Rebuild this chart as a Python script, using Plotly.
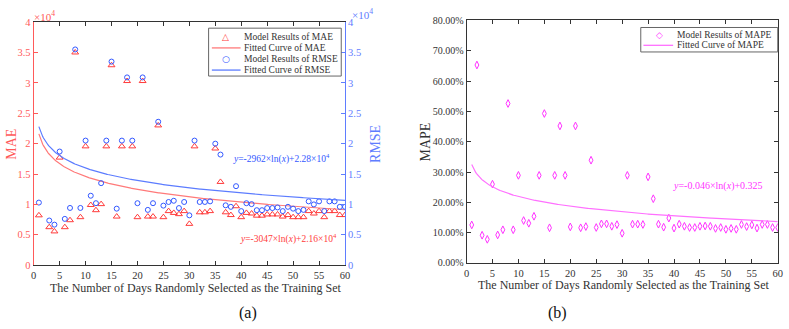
import numpy as np
import plotly.graph_objects as go

# ---------------- data ----------------
days_ab = [1, 3, 4, 5, 6, 7, 8, 9, 10, 11, 12, 13, 14, 15, 16, 17, 18, 19, 20,
           21, 22, 23, 24, 25, 26, 27, 28, 29, 30, 31, 32, 33, 34, 35, 36, 37, 38,
           39, 40, 41, 42, 43, 44, 45, 46, 47, 48, 49, 50, 51, 52, 53, 54, 55, 56,
           57, 58, 59, 60]
mae = [8200, 6250, 5560, 17700, 6250, 7400, 35000, 7900, 19550, 9900, 9050, 10050,
       19550, 32900, 8000, 19550, 30300, 19550, 7900, 30300, 8000, 8000, 23000, 7900,
       8900, 8600, 8400, 8900, 6800, 19550, 8700, 8700, 8900, 19200, 13700, 8700,
       8250, 9700, 7900, 8600, 8500, 8150, 8150, 8350, 8350, 8350, 8000, 8250, 7900,
       7900, 7900, 8900, 8500, 8900, 7900, 8900, 8900, 8250, 8250]
rmse = [10300, 7350, 6670, 18700, 7620, 9420, 35500, 9420, 20500, 11430, 10200, 13500,
        20500, 33500, 9300, 20500, 30900, 20500, 10200, 30900, 9100, 10200, 23600, 9800,
        10400, 10600, 9400, 10400, 8200, 20500, 10400, 10400, 10500, 20000, 18200, 9850,
        9600, 13000, 8900, 10200, 10050, 9050, 9050, 9400, 9400, 9500, 8900, 9600, 9300,
        8900, 9100, 10500, 10000, 10500, 8900, 10500, 10500, 9600, 9600]

days_c = list(range(1, 61))
mape = [0.1255, 0.653, 0.0915, 0.078, 0.260, 0.0925, 0.1095, 0.526, 0.1095, 0.289,
        0.140, 0.131, 0.154, 0.289, 0.493, 0.116, 0.289, 0.452, 0.289, 0.119,
        0.452, 0.116, 0.120, 0.339, 0.117, 0.129, 0.129, 0.121, 0.1265, 0.098,
        0.289, 0.128, 0.128, 0.127, 0.284, 0.212, 0.128, 0.118, 0.148, 0.115,
        0.128, 0.121, 0.117, 0.117, 0.121, 0.122, 0.121, 0.114, 0.117, 0.111,
        0.114, 0.111, 0.127, 0.120, 0.1255, 0.115, 0.127, 0.127, 0.117, 0.117]

# fitted-curve coefficients printed on the chart: y = a*ln(x) + b
mae_fit = (-3047.0, 2.16e4)
rmse_fit = (-2962.0, 2.28e4)
mape_fit = (-0.046, 0.325)

x_ticks = list(range(0, 61, 5))
ab_tickvals = [0, 5000, 10000, 15000, 20000, 25000, 30000, 35000, 40000]
ab_ticktext = ["0", "0.5", "1", "1.5", "2", "2.5", "3", "3.5", "4"]
c_tickvals = [0, 0.1, 0.2, 0.3, 0.4, 0.5, 0.6, 0.7, 0.8]

# ---------------- styling ----------------
W, H = 789, 329
FONT = "Liberation Serif"
RED_M, RED_L, RED_AX = "#ff3b3b", "#ff7a7a", "#ff5a5a"
BLUE_M, BLUE_L, BLUE_AX = "#3358ff", "#5c7cff", "#5f7dff"
MAG_M, MAG_L = "#ff33ff", "#ff70ff"
DARK = "#333333"


def px(x):
    return x / W


def py(y):
    return (H - y) / H


xf = np.linspace(1, 60, 400)

fig = go.Figure()
fig.add_trace(go.Scatter(x=days_ab, y=mae, mode="markers", name="Model Results of MAE",
                         marker=dict(symbol="triangle-up-open", size=6, color=RED_M,
                                     line=dict(width=1)),
                         xaxis="x", yaxis="y", showlegend=False))
fig.add_trace(go.Scatter(x=xf, y=mae_fit[0] * np.log(xf) + mae_fit[1], mode="lines",
                         name="Fitted Curve of MAE", line=dict(color=RED_L, width=1.2),
                         xaxis="x", yaxis="y", showlegend=False))
fig.add_trace(go.Scatter(x=days_ab, y=rmse, mode="markers", name="Model Results of RMSE",
                         marker=dict(symbol="circle-open", size=5, color=BLUE_M,
                                     line=dict(width=1)),
                         xaxis="x", yaxis="y2", showlegend=False))
fig.add_trace(go.Scatter(x=xf, y=rmse_fit[0] * np.log(xf) + rmse_fit[1], mode="lines",
                         name="Fitted Curve of RMSE", line=dict(color=BLUE_L, width=1.2),
                         xaxis="x", yaxis="y2", showlegend=False))
fig.add_trace(go.Scatter(x=days_c, y=mape, mode="markers", name="Model Results of MAPE",
                         marker=dict(symbol="diamond-tall-open", size=5.5, color=MAG_M,
                                     line=dict(width=1)),
                         xaxis="x2", yaxis="y3", showlegend=False))
fig.add_trace(go.Scatter(x=xf, y=mape_fit[0] * np.log(xf) + mape_fit[1], mode="lines",
                         name="Fitted Curve of MAPE", line=dict(color=MAG_L, width=1.2),
                         xaxis="x2", yaxis="y3", showlegend=False))

tickfont = dict(family=FONT, size=10.5, color=DARK)
common_x = dict(range=[0, 60], tickvals=x_ticks, ticks="inside", ticklen=4,
                showline=True, linecolor=DARK, linewidth=1, mirror="ticks",
                tickcolor=DARK, showgrid=False, zeroline=False, tickfont=tickfont)

fig.update_layout(
    width=W, height=H, margin=dict(l=0, r=0, t=0, b=0),
    paper_bgcolor="white", plot_bgcolor="white", showlegend=False,
    font=dict(family=FONT, color=DARK),
    xaxis=dict(domain=[px(31), px(345.5)], anchor="y", **common_x),
    yaxis=dict(domain=[py(269), py(16.7)], anchor="x", range=[0, 40000],
               tickvals=ab_tickvals, ticktext=ab_ticktext, ticks="inside", ticklen=4,
               showline=True, linecolor=RED_AX, tickcolor=RED_AX, showgrid=False,
               zeroline=False, tickfont=dict(family=FONT, size=10.5, color=RED_AX)),
    yaxis2=dict(overlaying="y", side="right", anchor="x", range=[0, 40000],
                tickvals=ab_tickvals, ticktext=ab_ticktext, ticks="inside", ticklen=4,
                showline=True, linecolor=BLUE_AX, tickcolor=BLUE_AX, showgrid=False,
                zeroline=False, tickfont=dict(family=FONT, size=10.5, color=BLUE_AX)),
    xaxis2=dict(domain=[px(468.3), px(782.7)], anchor="y3", **common_x),
    yaxis3=dict(domain=[py(266.7), py(15)], anchor="x2", range=[0, 0.8],
                tickvals=c_tickvals, tickformat=".2%", ticks="inside", ticklen=4,
                showline=True, linecolor=DARK, linewidth=1, mirror="ticks",
                tickcolor=DARK, showgrid=False, zeroline=False,
                tickfont=dict(family=FONT, size=10, color=DARK)),
)

ann = []
shapes = []


def add_text(text, x, y, size, color, angle=0, xanchor="center", family=FONT):
    ann.append(dict(text=text, x=px(x), y=py(y), xref="paper", yref="paper",
                    showarrow=False, xanchor=xanchor, yanchor="middle",
                    textangle=angle, font=dict(family=family, size=size, color=color)))


def add_legend(x0, x1, y0, y1, entries, sym_x, line_x0, line_x1, text_x):
    shapes.append(dict(type="rect", xref="paper", yref="paper",
                       x0=px(x0), x1=px(x1), y0=py(y1), y1=py(y0),
                       line=dict(color="#666666", width=1), fillcolor="white", layer="above"))
    for kind, label, color, yy in entries:
        if kind == "line":
            shapes.append(dict(type="line", xref="paper", yref="paper",
                               x0=px(line_x0), x1=px(line_x1), y0=py(yy), y1=py(yy),
                               line=dict(color=color, width=1.3), layer="above"))
        else:
            add_text(kind, sym_x, yy, 9, color, family="DejaVu Sans")
        add_text(label, text_x, yy, 9.5, DARK, xanchor="left")


add_legend(207.7, 341.7, 23, 72.7,
           [("△", "Model Results of MAE", RED_M, 32),
            ("line", "Fitted Curve of MAE", RED_L, 43.5),
            ("○", "Model Results of RMSE", BLUE_M, 55),
            ("line", "Fitted Curve of RMSE", BLUE_L, 66.5)],
           225, 211, 240, 241.5)
add_legend(644.3, 782.7, 22.3, 47.7,
           [("◇", "Model Results of MAPE", MAG_M, 30.2),
            ("line", "Fitted Curve of MAPE", MAG_L, 40.8)],
           663.3, 647, 677, 679)

add_text("MAE", 9, 143, 14, RED_AX, angle=-90)
add_text("RMSE", 377, 143, 14, BLUE_AX, angle=-90)
add_text("MAPE", 427, 141, 14, DARK, angle=-90)
add_text("×10<sup>4</sup>", 42, 10, 11, RED_AX)
add_text("×10<sup>4</sup>", 363, 8.5, 11, BLUE_AX)
add_text("The Number of Days Randomly Selected as the Training Set", 194.7, 293, 12, DARK)
add_text("The Number of Days Randomly Selected as the Training Set", 627.8, 290, 12, DARK)
add_text("<i>y</i>=-2962×ln(<i>x</i>)+2.28×10<sup>4</sup>", 281, 158, 9.5, BLUE_M)
add_text("<i>y</i>=-3047×ln(<i>x</i>)+2.16×10<sup>4</sup>", 288, 241, 9.5, RED_M)
add_text("<i>y</i>=-0.046×ln(<i>x</i>)+0.325", 722.8, 187, 10, MAG_M)
add_text("(a)", 247.5, 319, 16, "#111111")
add_text("(b)", 560, 319, 16, "#111111")
fig.update_layout(annotations=ann, shapes=shapes)

# remove the browser's default 8px body margin so the figure fills the window
fig.write_html("out.html",
               config={"displayModeBar": False},
               post_script="document.body.style.margin='0px';"
                           "document.body.style.overflow='hidden';")
